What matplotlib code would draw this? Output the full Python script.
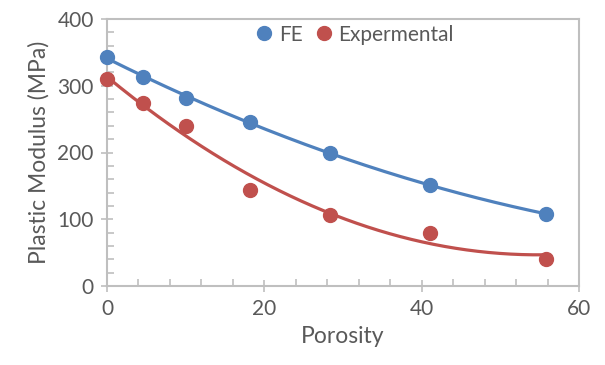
import numpy as np
import matplotlib.pyplot as plt
from matplotlib.ticker import MultipleLocator

# data
porosity = [0, 4.6, 10.1, 18.2, 28.4, 41.0, 55.8]
fe = [343, 313, 282, 246, 199, 151, 108]
experimental = [310, 274, 239, 144, 106, 79, 41]

blue = "#4F81BD"
red = "#C0504D"
grey = "#595959"
spine = "#BFBFBF"

plt.rcParams['font.family'] = ['Lato', 'DejaVu Sans']

fig = plt.figure(figsize=(6.05, 3.65), dpi=100)
ax = fig.add_axes([107 / 605, 1 - 286 / 365, (579 - 107) / 605, (286 - 19) / 365])

xs = np.linspace(min(porosity), max(porosity), 200)
for y, c, name in [(fe, blue, "FE"), (experimental, red, "Expermental")]:
    # 2nd order polynomial trendline, like Excel
    coef = np.polyfit(porosity, y, 2)
    ax.plot(xs, np.polyval(coef, xs), color=c, lw=2.3, zorder=2, clip_on=False)
    ax.plot(porosity, y, "o", color=c, ms=10, label=name, zorder=3, clip_on=False)

ax.set_xlim(0, 60)
ax.set_ylim(0, 400)
ax.xaxis.set_major_locator(MultipleLocator(20))
ax.xaxis.set_minor_locator(MultipleLocator(4))
ax.yaxis.set_major_locator(MultipleLocator(100))
ax.yaxis.set_minor_locator(MultipleLocator(20))
ax.tick_params(which="major", direction="inout", length=9, width=1.2, color=spine,
               labelsize=15, labelcolor=grey, pad=5)
ax.tick_params(which="minor", direction="in", length=5, width=1.2, color=spine)
for s in ax.spines.values():
    s.set_color(spine)
    s.set_linewidth(1.5)

ax.set_xlabel("Porosity", fontsize=16.5, color=grey, labelpad=5)
ax.set_ylabel("Plastic Modulus (MPa)", fontsize=16.5, color=grey, labelpad=6)

ax.legend(loc="upper center", ncol=2, frameon=False, fontsize=15, labelcolor=grey,
          handlelength=0.8, handletextpad=0.3, columnspacing=0.6, borderaxespad=0.0,
          bbox_to_anchor=(0.525, 1.01))

fig.savefig("out.png", dpi=100)
